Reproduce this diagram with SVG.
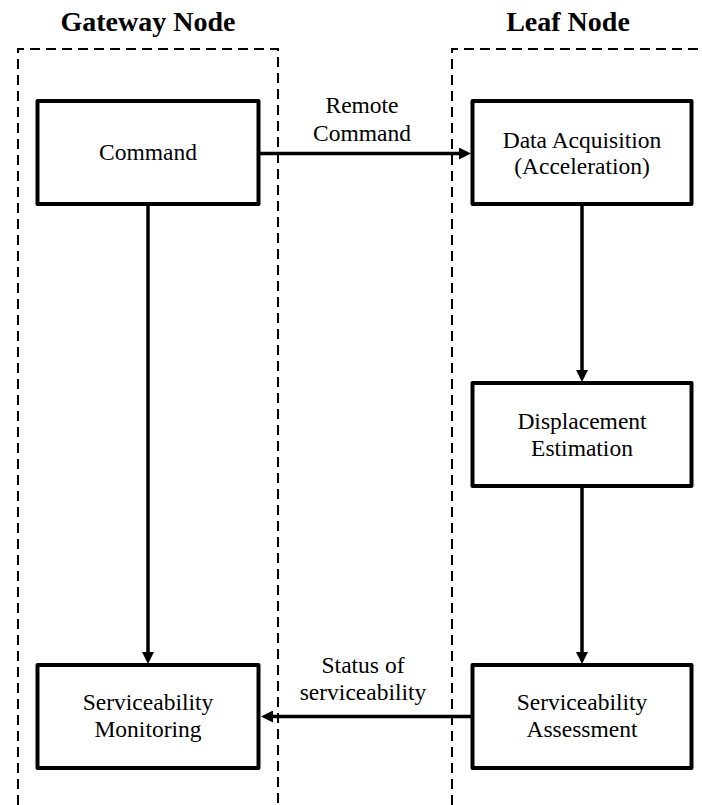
<svg xmlns="http://www.w3.org/2000/svg" width="702" height="805" viewBox="0 0 702 805">
<style>
.t{font-family:"Liberation Serif","Times New Roman",serif;font-size:23.5px;fill:#000;text-anchor:middle}
.h{font-family:"Liberation Serif","Times New Roman",serif;font-size:28px;font-weight:bold;fill:#000;text-anchor:middle}
.box{fill:#fff;stroke:#000;stroke-width:4;stroke-linejoin:round}
.dash{fill:none;stroke:#000;stroke-width:2;stroke-dasharray:10,6}
.c{fill:none;stroke:#000;stroke-width:3.5}
</style>
<defs>
<marker id="ah" markerUnits="userSpaceOnUse" viewBox="0 0 12 12" refX="1" refY="6" markerWidth="12" markerHeight="12" orient="auto">
<path d="M0,0 L12,6 L0,12 z" fill="#000"/>
</marker>
</defs>
<g id="gateway-lane">
<text class="h" x="148" y="31">Gateway Node</text>
<path class="dash" d="M18,805 V49 H278 V805"/>
</g>
<g id="leaf-lane">
<text class="h" x="568" y="31">Leaf Node</text>
<path class="dash" d="M452,805 V49 H702"/>
</g>
<g id="connectors">
<line class="c" x1="259" y1="153.5" x2="460" y2="153.5" marker-end="url(#ah)"/>
<line class="c" x1="148" y1="204" x2="148" y2="653" marker-end="url(#ah)"/>
<line class="c" x1="582" y1="204" x2="582" y2="371" marker-end="url(#ah)"/>
<line class="c" x1="582" y1="486" x2="582" y2="653" marker-end="url(#ah)"/>
<line class="c" x1="472" y1="716.5" x2="272" y2="716.5" marker-end="url(#ah)"/>
<text class="t" x="362" y="113">Remote</text>
<text class="t" x="362" y="141">Command</text>
<text class="t" x="363" y="673">Status of</text>
<text class="t" x="363" y="700">serviceability</text>
</g>
<g id="command">
<rect class="box" x="37.5" y="101" width="221" height="103"/>
<text class="t" x="148" y="160">Command</text>
</g>
<g id="data-acquisition">
<rect class="box" x="472.5" y="101" width="219" height="103"/>
<text class="t" x="582" y="148">Data Acquisition</text>
<text class="t" x="582" y="174">(Acceleration)</text>
</g>
<g id="displacement-estimation">
<rect class="box" x="472.5" y="383" width="219" height="103"/>
<text class="t" x="582" y="429">Displacement</text>
<text class="t" x="582" y="456">Estimation</text>
</g>
<g id="serviceability-assessment">
<rect class="box" x="472.5" y="665" width="219" height="103"/>
<text class="t" x="582" y="710">Serviceability</text>
<text class="t" x="582" y="737">Assessment</text>
</g>
<g id="serviceability-monitoring">
<rect class="box" x="37.5" y="665" width="221" height="103"/>
<text class="t" x="148" y="710">Serviceability</text>
<text class="t" x="148" y="737">Monitoring</text>
</g>
</svg>
